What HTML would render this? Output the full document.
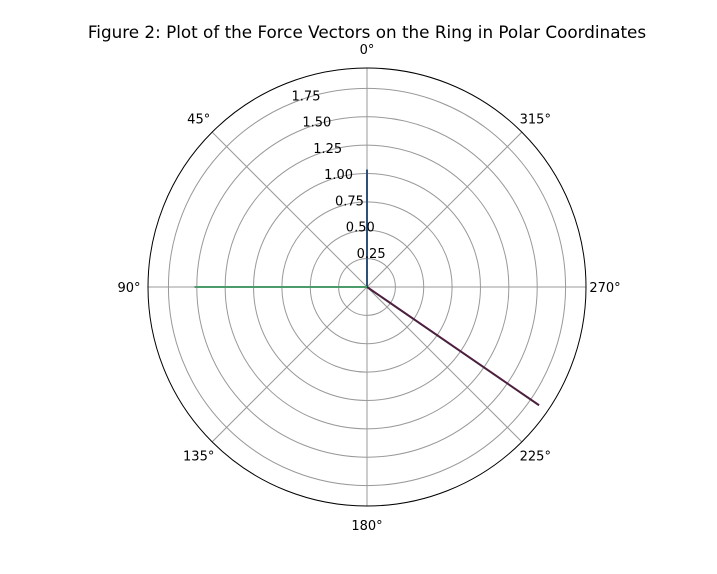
<!DOCTYPE html>
<html><head><meta charset="utf-8"><style>
body{margin:0;background:#fff}
svg text{font-family:"DejaVu Sans","Liberation Sans",sans-serif;font-size:13px;fill:#000}
</style></head><body>
<svg width="717" height="569">
<rect width="717" height="569" fill="#fff"/>
<text x="367" y="38" text-anchor="middle" style="font-size:16.8px">Figure 2: Plot of the Force Vectors on the Ring in Polar Coordinates</text>
<g id="grid"></g>
<g id="marks"></g>
<g id="labels"></g>
</svg>
<script>
const rTicks=[0.25,0.5,0.75,1.0,1.25,1.5,1.75];
const rTickLabels=["0.25","0.50","0.75","1.00","1.25","1.50","1.75"];
const thetaTicks=[0,45,90,135,180,225,270,315];
const seriesNames=["force-1","force-2","force-3"];
const seriesTheta=[0,90,235.5];
const seriesR=[1.035,1.52,1.84];
const seriesColors=["#2d5079","#4c9b6b","#4b1f3d"];
const cx=367,cy=287,R=219,rmax=1.93;
const NS="http://www.w3.org/2000/svg";
function rs(r){return r/rmax*R;}
function pt(th,r){const a=th*Math.PI/180;return [cx-rs(r)*Math.sin(a),cy-rs(r)*Math.cos(a)];}
function mk(tag,attrs,parent){const e=document.createElementNS(NS,tag);for(const k in attrs)e.setAttribute(k,attrs[k]);parent.appendChild(e);return e;}
const grid=document.getElementById('grid'),marks=document.getElementById('marks'),labels=document.getElementById('labels');
rTicks.forEach((r,i)=>{
 const c=mk('circle',{cx:cx,cy:cy,r:rs(r),fill:'none',stroke:'#999','stroke-width':1},grid);
 
 
});
thetaTicks.forEach(t=>{
 const p=pt(t,rmax);
 const l=mk('line',{x1:cx,y1:cy,x2:p[0],y2:p[1],stroke:'#999','stroke-width':1},grid);
 
 
 const q=[cx-238*Math.sin(t*Math.PI/180),cy-238*Math.cos(t*Math.PI/180)];
 const tx=mk('text',{x:q[0],y:q[1]+5,'text-anchor':'middle'},labels);
 tx.textContent=t+'°';
 
 
});
const outer=mk('circle',{cx:cx,cy:cy,r:R,fill:'none',stroke:'#000','stroke-width':1},grid);


rTicks.forEach((r,i)=>{
 const p=pt(22.5,r);
 const tx=mk('text',{x:p[0]+15,y:p[1]-3,'text-anchor':'middle'},labels);
 tx.textContent=rTickLabels[i];
 
 
});
seriesTheta.forEach((t,i)=>{
 const p=pt(t,seriesR[i]);
 const l=mk('line',{x1:cx,y1:cy,x2:p[0],y2:p[1],stroke:seriesColors[i],'stroke-width':2},marks);
 
 
});
</script>
</body></html>
